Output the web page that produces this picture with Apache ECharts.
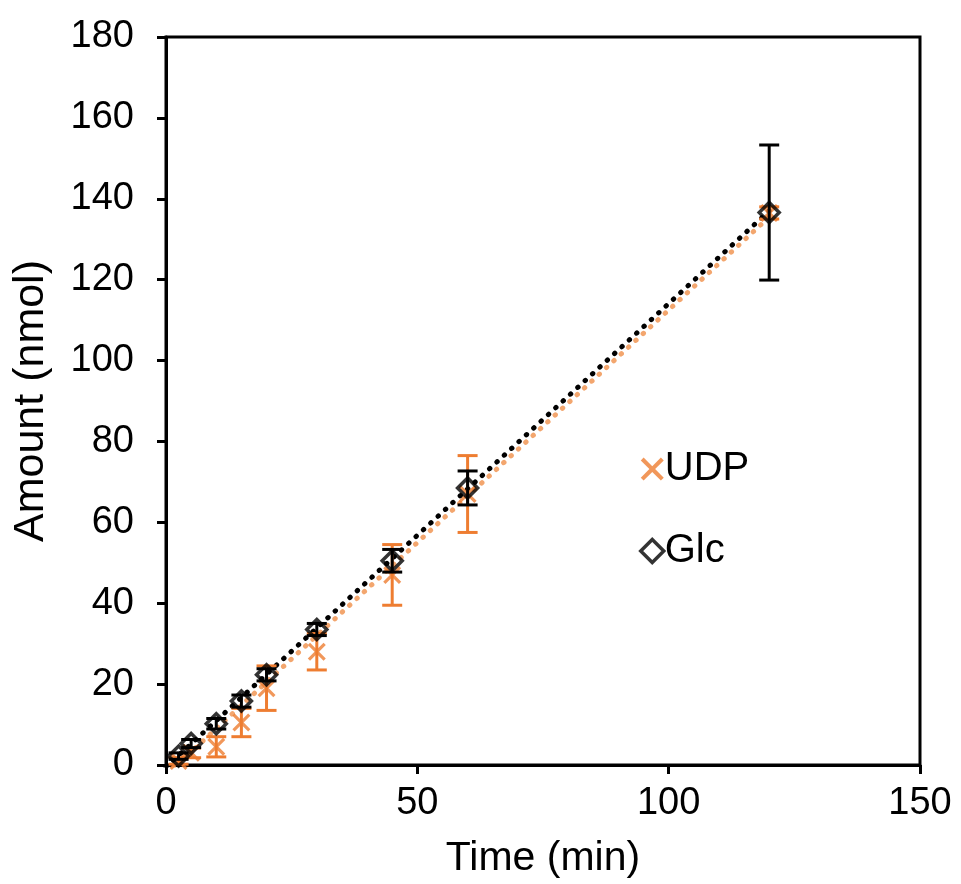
<!DOCTYPE html>
<html>
<head>
<meta charset="utf-8">
<script src="https://cdn.jsdelivr.net/npm/echarts@6/dist/echarts.min.js"></script>
<style>
  html, body { margin: 0; padding: 0; background: #fff; }
  #chart { width: 961px; height: 884px; }
</style>
</head>
<body>
<div id="chart"></div>
<script>
// data
var times   = [2.5, 5, 10, 15, 20, 30, 45, 60, 120];
var udpMean = [1, 3, 4.5, 10.5, 19, 28, 47, 67, 136.5];
var udpErr  = [0.8, 1.2, 2.5, 3.5, 5.5, 4.5, 7.5, 9.5, 1.5];
var glcMean = [2.2, 5.3, 10.2, 15.8, 22.3, 33.5, 50.5, 68.5, 136.6];
var glcErr  = [0.8, 1, 1.3, 1.5, 1.5, 1.5, 2.8, 4.2, 16.7];
// trend line end points
var trendX   = [0, 120];
var udpTrend = [-2.5, 135.5];
var glcTrend = [-0.5, 137];
var xTicks = [0, 50, 100, 150];
var yTicks = [0, 20, 40, 60, 80, 100, 120, 140, 160, 180];

var ORANGE = '#EE7D31';
var ORANGE_DOT = '#F3A66E';
var FONT = 'Liberation Sans';
var crossPath = 'path://M0,2.5L2.5,0L10,7.5L17.5,0L20,2.5L12.5,10L20,17.5L17.5,20L10,12.5L2.5,20L0,17.5L7.5,10Z';

function pairs(xs, ys) {
  return xs.map(function (x, i) { return [x, ys[i]]; });
}
function errData(mean, err) {
  return times.map(function (t, i) { return [t, mean[i] - err[i], mean[i] + err[i]]; });
}
// 误差线
function errRender(color) {
  return function (params, api) {
    var x = api.value(0);
    var top = api.coord([x, api.value(2)]);
    var bot = api.coord([x, api.value(1)]);
    var w = 10;
    var st = { stroke: color, lineWidth: 3 };
    return {
      type: 'group',
      children: [
        { type: 'line', shape: { x1: top[0], y1: top[1], x2: bot[0], y2: bot[1] }, style: st },
        { type: 'line', shape: { x1: top[0] - w, y1: top[1], x2: top[0] + w, y2: top[1] }, style: st },
        { type: 'line', shape: { x1: bot[0] - w, y1: bot[1], x2: bot[0] + w, y2: bot[1] }, style: st }
      ]
    };
  };
}

var option = {
  animation: false,
  backgroundColor: '#fff',
  grid: { left: 166, right: 41, top: 37, bottom: 119, show: true, borderColor: '#000', borderWidth: 3 },
  legend: {
    orient: 'vertical',
    left: 634, top: 444,
    itemWidth: 23, itemHeight: 23, itemGap: 42,
    textStyle: { fontFamily: FONT, fontSize: 40, color: '#000', padding: [0, 0, 0, -4] },
    data: [
      { name: 'UDP', icon: crossPath, itemStyle: { color: ORANGE, borderWidth: 0 } },
      { name: 'Glc', icon: 'diamond', itemStyle: { color: '#fff', borderColor: '#000', borderWidth: 3.5 } }
    ]
  },
  xAxis: {
    type: 'value', min: xTicks[0], max: xTicks[xTicks.length - 1], interval: 50,
    name: 'Time (min)', nameLocation: 'middle', nameGap: 73,
    nameTextStyle: { fontFamily: FONT, fontSize: 41, color: '#000' },
    axisLine: { show: true, lineStyle: { color: '#000', width: 3 } },
    axisTick: { show: true, inside: false, length: 9, lineStyle: { color: '#000', width: 3 } },
    axisLabel: { fontFamily: FONT, fontSize: 38, color: '#000', margin: 20 },
    splitLine: { show: false }
  },
  yAxis: {
    type: 'value', min: yTicks[0], max: yTicks[yTicks.length - 1], interval: 20,
    name: 'Amount (nmol)', nameLocation: 'middle', nameGap: 113, nameRotate: 90,
    nameTextStyle: { fontFamily: FONT, fontSize: 43, color: '#000' },
    axisLine: { show: true, lineStyle: { color: '#000', width: 3 } },
    axisTick: { show: true, inside: false, length: 9, lineStyle: { color: '#000', width: 3 } },
    axisLabel: { fontFamily: FONT, fontSize: 38, color: '#000', margin: 32 },
    splitLine: { show: false }
  },
  series: [
    {
      name: 'UDP trend', type: 'line', data: pairs(trendX, udpTrend),
      symbol: 'none', silent: true, z: 1,
      lineStyle: { color: ORANGE_DOT, width: 5, type: [0.5, 9.5], cap: 'round' }
    },
    {
      name: 'Glc trend', type: 'line', data: pairs(trendX, glcTrend),
      symbol: 'none', silent: true, z: 1,
      lineStyle: { color: '#000', width: 5, type: [0.5, 9.5], cap: 'round' }
    },
    {
      name: 'UDP err', type: 'custom', data: errData(udpMean, udpErr),
      encode: { x: 0, y: [1, 2] }, renderItem: errRender(ORANGE), z: 2
    },
    {
      name: 'UDP', type: 'scatter', data: pairs(times, udpMean),
      symbol: crossPath, symbolSize: 18, z: 3,
      itemStyle: { color: ORANGE }
    },
    {
      name: 'Glc err', type: 'custom', data: errData(glcMean, glcErr),
      encode: { x: 0, y: [1, 2] }, renderItem: errRender('#000'), z: 4
    },
    {
      name: 'Glc', type: 'scatter', data: pairs(times, glcMean),
      symbol: 'diamond', symbolSize: 20, z: 5,
      itemStyle: { color: 'rgba(255,255,255,0)', borderColor: '#000', borderWidth: 3.5 }
    }
  ]
};

var myChart = echarts.init(document.getElementById('chart'));
myChart.setOption(option);
window.addEventListener('resize', function () {
  myChart.resize();
});
</script>
</body>
</html>
